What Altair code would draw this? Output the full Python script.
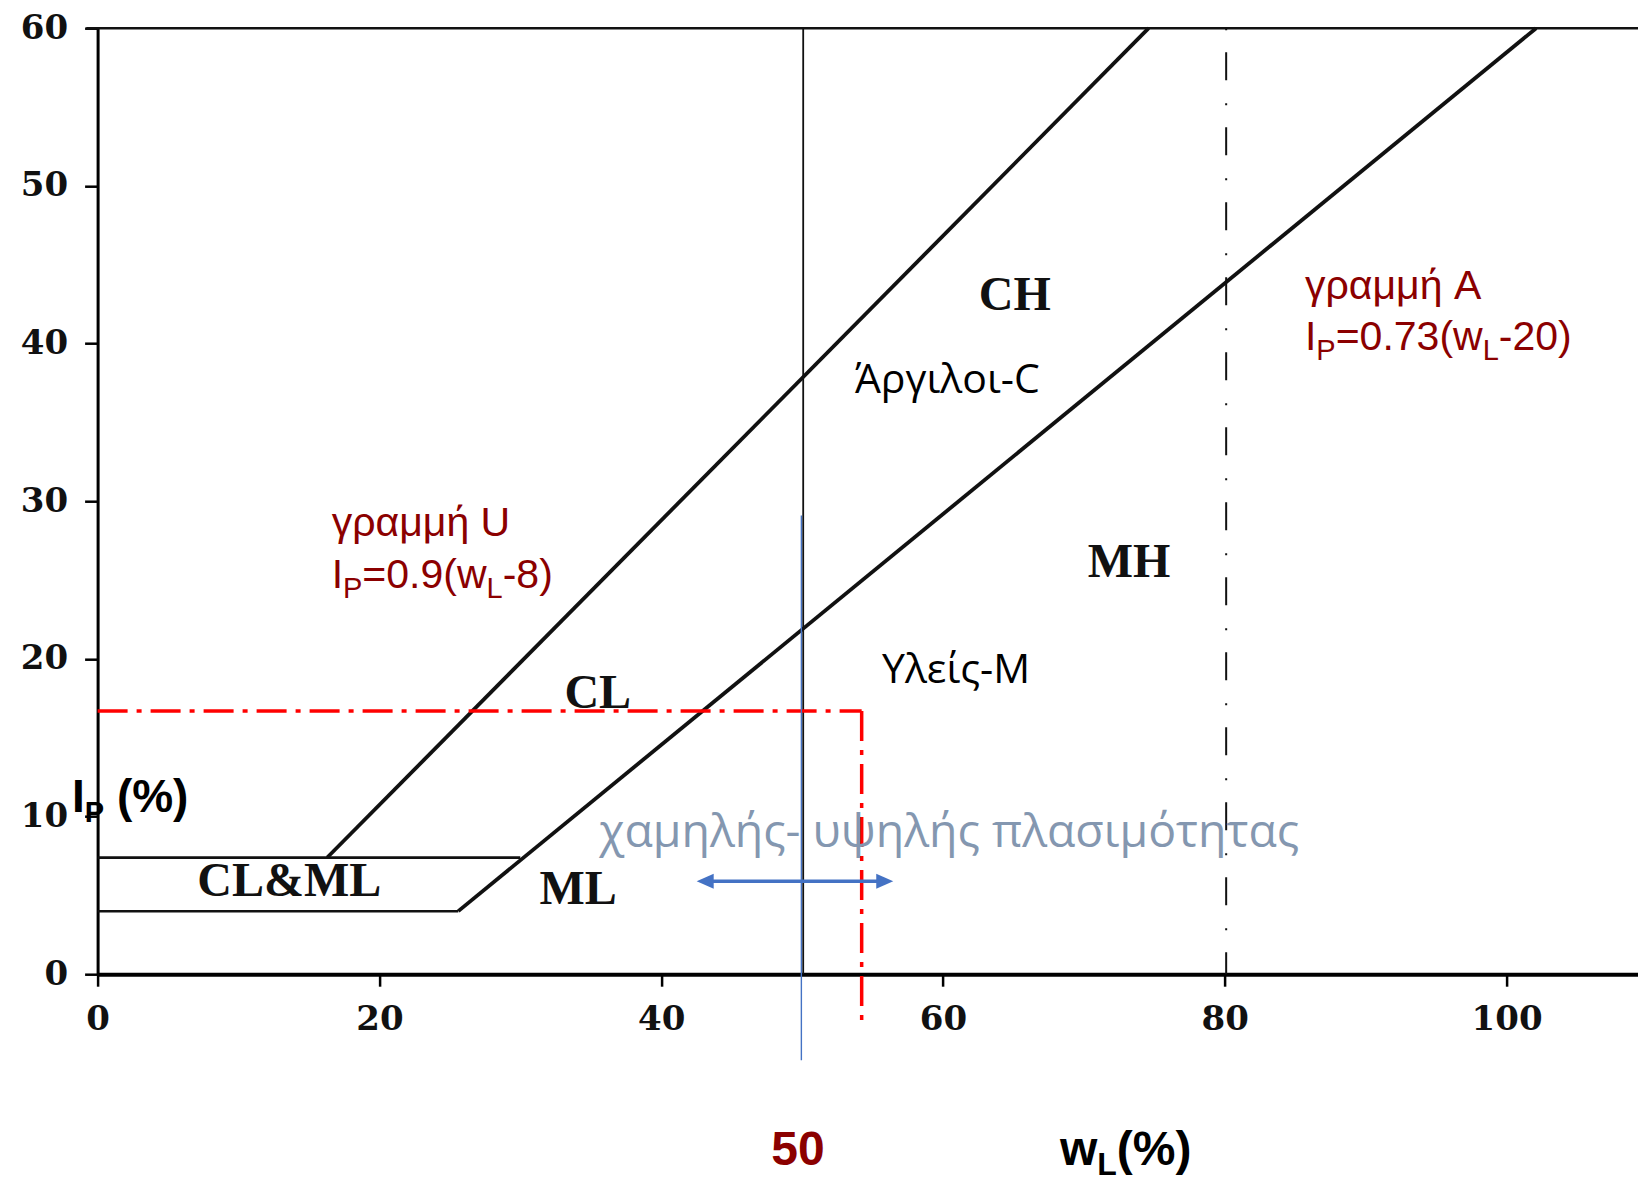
import altair as alt
import pandas as pd

# ---------------- data ----------------
X_MAX = 109.33
x_ticks = [0, 20, 40, 60, 80, 100]
y_ticks = [0, 10, 20, 30, 40, 50, 60]

u_line_wl = [16.3, 74.6]
u_line_ip = [7.4, 60.0]
a_line_wl = [25.6, 102.1]
a_line_ip = [4.0, 60.0]
band_top_wl = [0.0, 30.0]
band_top_ip = [7.4, 7.4]
band_bot_wl = [0.0, 25.6]
band_bot_ip = [4.0, 4.0]
wl50_wl = [50.08, 50.08]
wl50_ip = [0.0, 60.0]
top_wl = [-0.8, X_MAX]
top_ip = [60.0, 60.0]

wl80_wl = [80.1, 80.1]
wl80_ip = [60.0, 0.0]

sample_h_wl = [0.0, 54.23]
sample_h_ip = [16.7, 16.7]
sample_v_wl = [54.23, 54.23]
sample_v_ip = [16.7, -2.9]

blue_v_wl = [49.95, 49.95]
blue_v_ip = [29.1, -5.45]
arrow_wl = [42.52, 56.47]
arrow_ip = [5.89, 5.89]

zone_labels = ["CH", "MH", "CL", "ML", "CL&ML"]
zone_wl = [65.1, 73.2, 35.5, 34.1, 13.6]
zone_ip = [43.0, 26.1, 17.8, 5.37, 5.84]

greek_labels = ["Άργιλοι-C", "Υλείς-M"]
greek_wl = [53.75, 55.67]
greek_ip = [36.85, 18.5]

range_label = "χαμηλής- υψηλής πλασιμότητας"
range_wl = 35.6
range_ip = 8.06

u_title = "γραμμή U"
u_eq = [("I", False), ("P", True), ("=0.9(w", False), ("L", True), ("-8)", False)]
u_wl, u_ip1, u_ip2 = 16.61, 27.8, 24.5
a_title = "γραμμή A"
a_eq = [("I", False), ("P", True), ("=0.73(w", False), ("L", True), ("-20)", False)]
a_wl, a_ip1, a_ip2 = 85.69, 42.8, 39.6

ylab = [("I", False), ("P", True), (" (%)", False)]
ylab_wl, ylab_ip = -1.82, 10.27
xlab = [("w", False), ("L", True), ("(%)", False)]
xlab_wl, xlab_ip = 68.3, -12.1
mark50 = "50"
mark50_wl, mark50_ip = 49.71, -12.09

# ---------------- scales / axes ----------------
xscale = alt.Scale(domain=[0, X_MAX], nice=False, zero=False)
yscale = alt.Scale(domain=[0, 60], nice=False, zero=False)
xaxis = alt.Axis(values=x_ticks, title=None, grid=False, domainWidth=4, domainColor="black",
                 tickSize=12, tickWidth=2.5, tickColor="black", labelFont="DejaVu Serif",
                 labelFontSize=34, labelFontWeight="bold", labelPadding=16, labelColor="#111111",
                 labelFlush=False, labelOverlap=False, labelBound=False)
yaxis = alt.Axis(values=y_ticks, title=None, grid=False, domainWidth=3, domainColor="black",
                 tickSize=13, tickWidth=2.5, tickColor="black", labelFont="DejaVu Serif",
                 labelFontSize=34, labelFontWeight="bold", labelPadding=17, labelColor="#111111",
                 labelFlush=False, labelOverlap=False, labelBound=False, labelBaseline="middle")


def X(f="x"):
    return alt.X(f"{f}:Q", scale=xscale, axis=xaxis)


def Y(f="y"):
    return alt.Y(f"{f}:Q", scale=yscale, axis=yaxis)


def seg(xs, ys, **kw):
    df = pd.DataFrame({"x": xs, "y": ys, "o": list(range(len(xs)))})
    return alt.Chart(df).mark_line(**kw).encode(x=X(), y=Y(), order="o:Q")


layers = []
# solid black classification lines
for xs, ys, w in [(u_line_wl, u_line_ip, 3.8), (a_line_wl, a_line_ip, 3.8),
                  (band_top_wl, band_top_ip, 2.8), (band_bot_wl, band_bot_ip, 2.5),
                  (wl50_wl, wl50_ip, 1.8), (top_wl, top_ip, 2.6)]:
    layers.append(seg(xs, ys, color="#111111", strokeWidth=w))
# dash-dot at wL=80
layers.append(seg(wl80_wl, wl80_ip, color="#111111", strokeWidth=2, strokeDash=[2, 22, 28, 23]))
# red sample lines
layers.append(seg(sample_h_wl, sample_h_ip, color="#FF0000", strokeWidth=3.5, strokeDash=[30, 9, 5, 9]))
layers.append(seg(sample_v_wl, sample_v_ip, color="#FF0000", strokeWidth=3.5, strokeDash=[30, 9, 5, 9]))
# blue guide
layers.append(seg(blue_v_wl, blue_v_ip, color="#4472C4", strokeWidth=1.4))
layers.append(seg([arrow_wl[0] + 0.6, arrow_wl[1] - 0.6], arrow_ip, color="#4472C4", strokeWidth=3.5))
adf_l = pd.DataFrame({"x": [arrow_wl[0]], "y": [arrow_ip[0]]})
adf_r = pd.DataFrame({"x": [arrow_wl[1]], "y": [arrow_ip[1]]})
layers.append(alt.Chart(adf_l).mark_point(shape="M0,0L2,-0.88L2,0.88Z", size=289, filled=True,
                                            color="#4472C4", opacity=1).encode(x=X(), y=Y()))
layers.append(alt.Chart(adf_r).mark_point(shape="M0,0L-2,-0.88L-2,0.88Z", size=289, filled=True,
                                            color="#4472C4", opacity=1).encode(x=X(), y=Y()))

# zone labels (serif, bold)
zdf = pd.DataFrame({"x": zone_wl, "y": zone_ip, "t": zone_labels})
layers.append(alt.Chart(zdf).mark_text(font="Liberation Serif", fontWeight="bold", fontSize=48,
                                       color="#111111", align="center", baseline="middle")
              .encode(x=X(), y=Y(), text="t:N"))
# greek labels
gdf = pd.DataFrame({"x": greek_wl, "y": greek_ip, "t": greek_labels})
layers.append(alt.Chart(gdf).mark_text(font="Open Sans", fontSize=41, color="black",
                                       align="left", baseline="alphabetic")
              .encode(x=X(), y=Y(), text="t:N"))
rdf = pd.DataFrame({"x": [range_wl], "y": [range_ip], "t": [range_label]})
layers.append(alt.Chart(rdf).mark_text(font="Open Sans", fontSize=46.4, color="#8497B0",
                                       align="left", baseline="alphabetic")
              .encode(x=X(), y=Y(), text="t:N"))

W_REG = {"I": 278, "P": 667, "=": 584, "0": 556, ".": 278, "9": 556, "(": 333, "w": 722,
         "L": 556, "-": 333, "8": 556, ")": 333, "7": 556, "3": 556, "2": 556, " ": 278, "%": 889}
W_BOLD = {"I": 278, "P": 667, " ": 278, "(": 333, "%": 889, ")": 333, "w": 778, "L": 611}


def rich(pieces, x, y, size, sub_size, sub_dy, color, bold=False):
    table = W_BOLD if bold else W_REG
    out = []
    off = 0.0
    for txt, sub in pieces:
        s = sub_size if sub else size
        lead = len(txt) - len(txt.lstrip(" "))
        off += lead * table[" "] * s / 1000.0
        body = txt.lstrip(" ")
        df = pd.DataFrame({"x": [x], "y": [y], "t": [body]})
        out.append(alt.Chart(df).mark_text(font="Liberation Sans", fontSize=s,
                                           fontWeight="bold" if bold else "normal", color=color,
                                           align="left", baseline="alphabetic", dx=off,
                                           dy=sub_dy if sub else 0)
                   .encode(x=X(), y=Y(), text="t:N"))
        off += sum(table.get(c, 556) for c in body) * s / 1000.0
    return out


def plain(txt, x, y, size, color, bold=False, align="left"):
    df = pd.DataFrame({"x": [x], "y": [y], "t": [txt]})
    return alt.Chart(df).mark_text(font="Liberation Sans", fontSize=size,
                                   fontWeight="bold" if bold else "normal", color=color,
                                   align=align, baseline="alphabetic").encode(x=X(), y=Y(), text="t:N")


DRED = "#8B0000"
layers.append(plain(u_title, u_wl, u_ip1, 41, DRED))
layers += rich(u_eq, u_wl, u_ip2, 41, 29, 10, DRED)
layers.append(plain(a_title, a_wl, a_ip1, 41, DRED))
layers += rich(a_eq, a_wl, a_ip2, 41, 29, 10, DRED)
layers += rich(ylab, ylab_wl, ylab_ip, 46, 29, 10, "black", bold=True)
layers += rich(xlab, xlab_wl, xlab_ip, 48, 32, 10, "black", bold=True)
layers.append(plain(mark50, mark50_wl, mark50_ip, 48, DRED, bold=True, align="center"))

chart = alt.layer(*layers).properties(
    width=1540.4, height=946,
    padding={"left": 89.6, "top": 20.2, "right": 0, "bottom": 209.8},
    autosize=alt.AutoSizeParams(type="none"),
    background="white",
).configure_view(stroke=None)

chart.save("out.html", embed_options={"renderer": "svg", "actions": False})
